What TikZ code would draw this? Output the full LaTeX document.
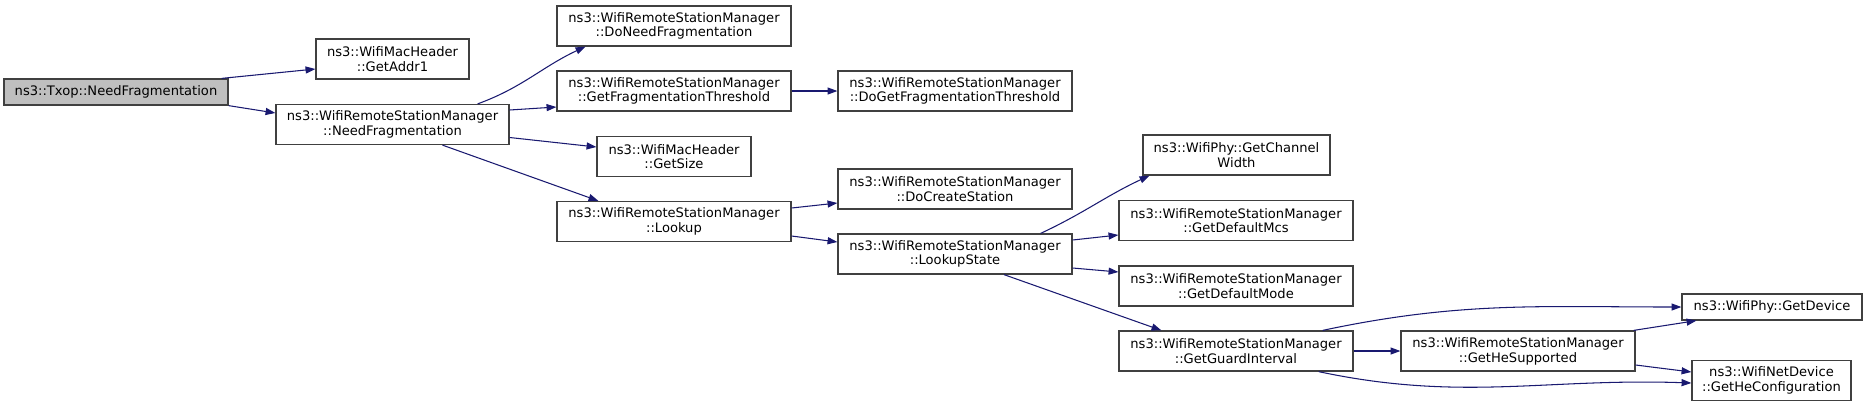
\documentclass[tikz,border=0pt]{standalone}
\usepackage{fontspec}
\setmainfont{DejaVu Sans}
\usetikzlibrary{arrows.meta,positioning,calc}
\definecolor{CGEdge}{HTML}{191970}
\definecolor{CGBorder}{HTML}{404040}
\definecolor{CGCurrent}{HTML}{BFBFBF}
\tikzset{
  fn/.style={draw=CGBorder,line width=0.7pt,fill=white,inner sep=0pt,
             minimum width=4.68cm,minimum height=0.8cm,align=center,
             font=\fontsize{7.45}{8.4}\selectfont},
  fnone/.style={fn,minimum height=0.52cm},
  fncur/.style={fnone,fill=CGCurrent},
  call/.style={-{Triangle[length=5.6pt,width=4pt]},CGEdge,line width=0.6pt},
}

\begin{document}
\begin{tikzpicture}[x=0.02cm,y=-0.02cm]
    \useasboundingbox (0,0) rectangle (1867,407);

    \node[fncur,minimum width=4.48cm] (txop) at (116,92) {ns3::Txop::NeedFragmentation};
    \node[fn,minimum width=3.06cm] (addr) at (392.5,59) {ns3::WifiMacHeader\\::GetAddr1};
    \node[fn,minimum width=4.66cm] (needfrag) at (392.5,124.5) {ns3::WifiRemoteStationManager\\::NeedFragmentation};

    \node[fn] (doneed) at (674,26) {ns3::WifiRemoteStationManager\\::DoNeedFragmentation};
    \node[fn] (getfrag) at (674,91) {ns3::WifiRemoteStationManager\\::GetFragmentationThreshold};
    \node[fn,minimum width=3.08cm] (getsize) at (674,156.5) {ns3::WifiMacHeader\\::GetSize};
    \node[fn] (lookup) at (674,221.5) {ns3::WifiRemoteStationManager\\::Lookup};

    \node[fn] (dogetfrag) at (955,91) {ns3::WifiRemoteStationManager\\::DoGetFragmentationThreshold};
    \node[fn] (docreate) at (955,189) {ns3::WifiRemoteStationManager\\::DoCreateStation};
    \node[fn] (lookupst) at (955,254) {ns3::WifiRemoteStationManager\\::LookupState};

    \node[fn,minimum width=3.74cm] (chanwidth) at (1236.5,155) {ns3::WifiPhy::GetChannel\\Width};
    \node[fn] (defmcs) at (1236,220.5) {ns3::WifiRemoteStationManager\\::GetDefaultMcs};
    \node[fn] (defmode) at (1236,286) {ns3::WifiRemoteStationManager\\::GetDefaultMode};
    \node[fn] (guard) at (1236,351) {ns3::WifiRemoteStationManager\\::GetGuardInterval};

    \node[fn] (hesup) at (1518,351) {ns3::WifiRemoteStationManager\\::GetHeSupported};
    \node[fnone,minimum width=3.6cm] (getdev) at (1772,307) {ns3::WifiPhy::GetDevice};
    \node[fn,minimum width=3.18cm] (heconf) at (1771.5,380.5) {ns3::WifiNetDevice\\::GetHeConfiguration};

    \draw[call] ([xshift=-0.14cm]txop.north east) -- ([yshift=-0.2cm]addr.west);
    \draw[call] (txop.south east) -- ([yshift=0.23cm]needfrag.west);
    \draw[call] ([xshift=-0.64cm]needfrag.north east) to[out=20,in=205] ([xshift=0.58cm]doneed.south west);
    \draw[call] ([yshift=0.29cm]needfrag.east) -- ([yshift=-0.32cm]getfrag.west);
    \draw[call] ([yshift=-0.26cm]needfrag.east) -- ([yshift=0.19cm]getsize.west);
    \draw[call] ([xshift=1.0cm]needfrag.south) -- ([xshift=0.84cm]lookup.north west);
    \draw[call] (getfrag) -- (dogetfrag);
    \draw[call] ([yshift=0.27cm]lookup.east) -- ([yshift=-0.28cm]docreate.west);
    \draw[call] ([yshift=-0.29cm]lookup.east) -- ([yshift=0.24cm]lookupst.west);
    \draw[call] ([xshift=-0.64cm]lookupst.north east) to[out=25,in=205] ([xshift=0.14cm]chanwidth.south west);
    \draw[call] ([yshift=0.28cm]lookupst.east) -- ([yshift=-0.29cm]defmcs.west);
    \draw[call] ([yshift=-0.28cm]lookupst.east) -- ([yshift=0.28cm]defmode.west);
    \draw[call] ([xshift=0.98cm]lookupst.south) -- ([xshift=0.86cm]guard.north west);
    \draw[call] (guard) -- (hesup);
    \draw[call] ([xshift=-0.62cm]guard.north east) to[out=12,in=180] (getdev.west);
    \draw[call] ([xshift=-0.7cm]guard.south east) to[out=-12,in=178] ([yshift=-0.05cm]heconf.west);
    \draw[call] ([xshift=-0.04cm]hesup.north east) -- ([xshift=0.3cm]getdev.south west);
    \draw[call] ([yshift=-0.28cm]hesup.east) -- ([yshift=0.17cm]heconf.west);
\end{tikzpicture}
\end{document}
